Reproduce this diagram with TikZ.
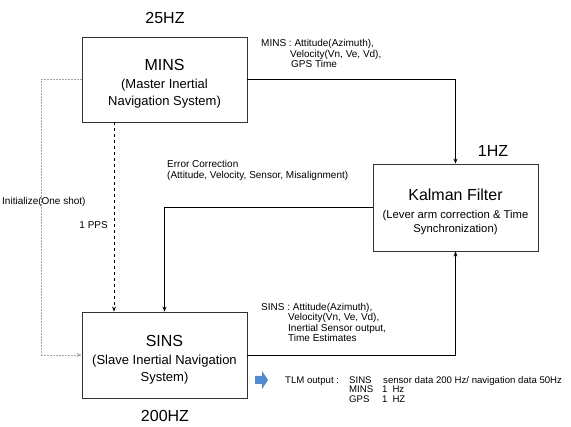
\documentclass[tikz,border=0pt]{standalone}
\usepackage{fontspec}
\setmainfont{Liberation Sans}
\usetikzlibrary{arrows.meta}
\definecolor{tlmblue}{RGB}{79,140,206}

\begin{document}
\begin{tikzpicture}
  [x=1pt,y=-1pt,
   blk/.style={draw=black!80,line width=0.9pt,rectangle,minimum width=165pt,align=center,inner sep=0pt,font=\fontsize{13}{17}\selectfont},
   hz/.style={font=\fontsize{16}{18}\selectfont,inner sep=0pt},
   lbl/.style={font=\fontsize{10}{9}\selectfont,align=left,inner sep=0pt},
   tlmrow/.style={font=\fontsize{9.6}{9}\selectfont,inner sep=0pt,anchor=base west},
   conn/.style={line width=0.8pt,-{Stealth[length=5pt,width=4pt]}}]
\useasboundingbox (0,0) rectangle (571,427);
\node (mins)[blk,minimum height=85pt] at (164.5,79.5)  {{\fontsize{16}{18}\selectfont\rule{0pt}{19pt}MINS}\\[1pt](Master Inertial\\Navigation System)};
  \node (kf)[blk,minimum height=87pt,font=\fontsize{11.3}{14}\selectfont] at (455.5,207.5)  {{\fontsize{16}{18}\selectfont\rule{0pt}{20pt}Kalman Filter}\\[3.5pt](Lever arm correction \& Time\\Synchronization)};
  \node (sins)[blk,minimum height=86pt] at (164.5,355)  {{\fontsize{16}{18}\selectfont\rule{0pt}{21pt}SINS}\\[1pt](Slave Inertial Navigation\\System)};
  \node (hzmins)[hz] at (165,18) {25HZ};
  \node (hzkf)[hz] at (493,151) {1HZ};
  \node (hzsins)[hz] at (165,416) {200HZ};
 % data labels
  \node (minsdata)[lbl,anchor=north west] at (261,39.5) {MINS : Attitude(Azimuth),\\\hspace*{29pt}Velocity(Vn, Ve, Vd),\\\hspace*{30pt}GPS Time};
  \node (sinsdata)[lbl,anchor=north west,font=\fontsize{10}{10.3}\selectfont] at (261,303) {SINS : Attitude(Azimuth),\\\hspace*{27pt}Velocity(Vn, Ve, Vd),\\\hspace*{27pt}Inertial Sensor output,\\\hspace*{27pt}Time Estimates};
  \node (errcorr)[lbl,anchor=north west,font=\fontsize{10}{11}\selectfont] at (167,160) {Error Correction\\(Attitude, Velocity, Sensor, Misalignment)};
  \node (pps)[lbl,anchor=east] at (108,225) {1 PPS};
  \node (init)[lbl,anchor=west] at (2,202) {Initialize(One shot)};
 % TLM output
  \fill [tlmblue] (255,376) -- (262,376) -- (262,371) -- (268,380) -- (262,389) -- (262,384) -- (255,384) -- cycle;
  \node (tlm)[tlmrow] at (285,383.3) {TLM output :};
  \node (tlm1)[tlmrow] at (349,383.3) {SINS};
  \node (tlm1v)[tlmrow] at (383,383.3) {sensor data 200 Hz/ navigation data 50Hz};
  \node (tlm2)[tlmrow] at (349,392.8) {MINS};
  \node (tlm2v)[tlmrow] at (382,392.8) {1\hspace{5pt}Hz};
  \node (tlm3)[tlmrow] at (349,402.3) {GPS};
  \node (tlm3v)[tlmrow] at (382,402.3) {1\hspace{5pt}HZ};
 \draw [conn] (mins.east) -| (kf.north);
 \draw [conn] (kf.west) -| (sins.north);
 \draw [conn] (sins.east) -| (kf.south);
 \draw [conn,dashed] ([xshift=-50.5pt]mins.south) -- ([xshift=-50.5pt]sins.north);
 \draw [line width=0.6pt,black!35,dash pattern=on 2pt off 1pt,-{Stealth[length=5pt,width=4pt]}] (mins.west) -- ++(-40,0) |- (sins.west);
\end{tikzpicture}
\end{document}
